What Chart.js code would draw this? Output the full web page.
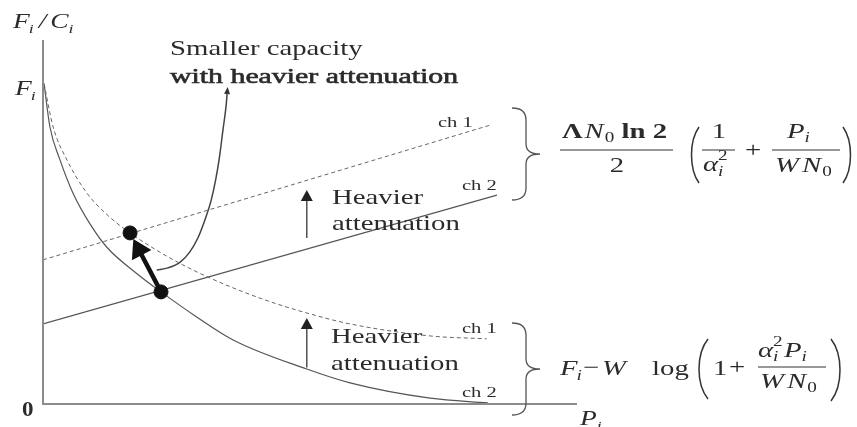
<!DOCTYPE html>
<html>
<head>
<meta charset="utf-8">
<script src="https://cdn.jsdelivr.net/npm/chart.js@4.4.1/dist/chart.umd.min.js"></script>
<style>
  body { margin: 0; background: #fff; }
  canvas { display: block; }
</style>
</head>
<body>
<canvas id="myChart" width="857" height="427"></canvas>
<script>
// Cost / capacity curves vs. transmit power P_i (schematic units)
var ch2CostP = [0.02, 0.13, 0.32, 0.56, 0.88, 1.20, 1.76, 2.21, 2.85, 3.56, 4.94, 5.75, 7.25, 8.33];
var ch2CostF = [8.80, 7.61, 6.70, 5.80, 4.95, 4.30, 3.58, 3.08, 2.42, 1.76, 0.96, 0.58, 0.16, 0.03];

var ch1CostP = [0.02, 0.19, 0.45, 0.82, 1.20, 1.63, 2.38, 3.13, 4.06, 4.94, 5.75, 7.25, 8.31];
var ch1CostF = [8.80, 7.61, 6.70, 5.80, 5.20, 4.70, 4.01, 3.46, 2.91, 2.50, 2.20, 1.87, 1.79];

var ch1LineP = [0, 8.37];
var ch1LineF = [3.96, 7.66];
var ch2LineP = [0, 8.50];
var ch2LineF = [2.20, 5.74];

// smaller capacity with heavier attenuation
var heavyP = [2.13, 2.34, 2.57, 2.75, 2.90, 3.03, 3.15, 3.24, 3.31, 3.37, 3.43, 3.45];
var heavyF = [3.68, 3.74, 3.90, 4.18, 4.56, 5.05, 5.60, 6.21, 6.84, 7.53, 8.21, 8.57];

// operating points (ch 1 first, ch 2 second)
var optP = [1.63, 2.21];
var optF = [4.70, 3.08];

// where the "Heavier attenuation" arrows sit
var shiftP = 4.94;
var shiftUpper = [4.56, 5.88];
var shiftLower = [1.00, 2.36];

function pts(xs, ys) {
    return xs.map(function (x, i) { return { x: x, y: ys[i] }; });
}

var INK = '#2b2b2b';
var LINE = '#555';
var SX = 1.37; // text is set wide

function txt(ctx, s, x, y, size, style, opts) {
    opts = opts || {};
    var sx = opts.sx || SX;
    ctx.save();
    ctx.font = (style || '') + ' ' + size + 'px "Liberation Serif", "DejaVu Serif", serif';
    var w = ctx.measureText(s).width * sx;
    if (opts.align === 'center') x -= w / 2;
    ctx.translate(x, y);
    ctx.scale(sx, 1);
    ctx.fillStyle = INK;
    ctx.textBaseline = 'alphabetic';
    ctx.fillText(s, 0, 0);
    if (opts.heavy) {
        // a little heavier than regular, lighter than bold
        ctx.strokeStyle = INK;
        ctx.lineWidth = opts.heavy;
        ctx.strokeText(s, 0, 0);
    }
    ctx.restore();
    return x + w;
}

function hline(ctx, x0, x1, y) {
    ctx.beginPath();
    ctx.moveTo(x0, y);
    ctx.lineTo(x1, y);
    ctx.stroke();
}

function head(ctx, tx, ty, ux, uy, len, half) {
    var bx = tx - ux * len, by = ty - uy * len;
    ctx.beginPath();
    ctx.moveTo(tx, ty);
    ctx.lineTo(bx - uy * half, by + ux * half);
    ctx.lineTo(bx + uy * half, by - ux * half);
    ctx.closePath();
    ctx.fill();
}

function brace(ctx, x, y0, y1, w) {
    var ym = (y0 + y1) / 2, q = w / 2;
    ctx.beginPath();
    ctx.moveTo(x, y0);
    ctx.quadraticCurveTo(x + q, y0, x + q, y0 + 12);
    ctx.lineTo(x + q, ym - 10);
    ctx.quadraticCurveTo(x + q, ym, x + w, ym);
    ctx.quadraticCurveTo(x + q, ym, x + q, ym + 10);
    ctx.lineTo(x + q, y1 - 12);
    ctx.quadraticCurveTo(x + q, y1, x, y1);
    ctx.stroke();
}

function paren(ctx, x, y0, y1, w, left) {
    var h = y1 - y0;
    ctx.beginPath();
    if (left) {
        ctx.moveTo(x + w, y0);
        ctx.bezierCurveTo(x - 1, y0 + h * 0.25, x - 1, y1 - h * 0.25, x + w, y1);
    } else {
        ctx.moveTo(x, y0);
        ctx.bezierCurveTo(x + w + 1, y0 + h * 0.25, x + w + 1, y1 - h * 0.25, x, y1);
    }
    ctx.stroke();
}

var sketchNotes = {
    id: 'sketchNotes',
    afterDatasetsDraw: function (chart) {
        var ctx = chart.ctx;
        var xs = chart.scales.x, ys = chart.scales.y;
        var a = chart.chartArea;

        // axes
        ctx.save();
        ctx.strokeStyle = '#8c8c8c';
        ctx.lineWidth = 2;
        ctx.beginPath();
        ctx.moveTo(a.left, a.top);
        ctx.lineTo(a.left, a.bottom);
        ctx.lineTo(a.right, a.bottom);
        ctx.stroke();
        ctx.restore();

        ctx.save();
        ctx.fillStyle = '#111';
        ctx.strokeStyle = '#111';

        // thick arrow between the two operating points
        var x0 = xs.getPixelForValue(optP[0]), y0 = ys.getPixelForValue(optF[0]);
        var x1 = xs.getPixelForValue(optP[1]), y1 = ys.getPixelForValue(optF[1]);
        var dx = x0 - x1, dy = y0 - y1, d = Math.sqrt(dx * dx + dy * dy);
        var ux = dx / d, uy = dy / d;
        var tx = x0 - ux * 7, ty = y0 - uy * 7;
        ctx.lineWidth = 4.5;
        ctx.beginPath();
        ctx.moveTo(x1, y1);
        ctx.lineTo(tx - ux * 16, ty - uy * 16);
        ctx.stroke();
        head(ctx, tx, ty, ux, uy, 18, 11);

        // small head on top of the heavy-attenuation curve
        var n = heavyP.length;
        var hx = xs.getPixelForValue(heavyP[n - 1]), hy = ys.getPixelForValue(heavyF[n - 1]);
        var gx = xs.getPixelForValue(heavyP[n - 2]), gy = ys.getPixelForValue(heavyF[n - 2]);
        var hd = Math.sqrt((hx - gx) * (hx - gx) + (hy - gy) * (hy - gy));
        ctx.fillStyle = '#333';
        head(ctx, hx + (hx - gx) / hd * 5, hy + (hy - gy) / hd * 5, (hx - gx) / hd, (hy - gy) / hd, 7, 3);

        // "Heavier attenuation" arrows
        ctx.strokeStyle = '#444';
        ctx.fillStyle = '#222';
        ctx.lineWidth = 1.4;
        [shiftUpper, shiftLower].forEach(function (s) {
            var px = xs.getPixelForValue(shiftP);
            var pa = ys.getPixelForValue(s[0]), pb = ys.getPixelForValue(s[1]);
            ctx.beginPath();
            ctx.moveTo(px, pa);
            ctx.lineTo(px, pb + 8);
            ctx.stroke();
            head(ctx, px, pb, 0, -1, 11, 6);
        });
        ctx.restore();

        // axis labels
        var x;
        x = txt(ctx, 'F', 13, 28, 20, 'italic');
        x = txt(ctx, 'i', x - 1, 33, 13, 'italic');
        x = txt(ctx, '/', x + 5, 28, 20, 'italic');
        x = txt(ctx, 'C', x + 4, 28, 20, 'italic');
        txt(ctx, 'i', x, 33, 13, 'italic');

        x = txt(ctx, 'F', 15, 95, 20, 'italic');
        txt(ctx, 'i', x - 1, 100, 13, 'italic');

        txt(ctx, '0', 22, 416, 20, 'bold', { sx: 1.15 });

        x = txt(ctx, 'P', 580, 425, 20, 'italic');
        txt(ctx, 'i', x, 430, 13, 'italic');

        // curve notes
        txt(ctx, 'Smaller capacity', 170, 55, 21, '');
        txt(ctx, 'with heavier attenuation', 170, 83, 21, '', { sx: 1.42, heavy: 0.6 });

        txt(ctx, 'Heavier', 332, 204, 21, '');
        txt(ctx, 'attenuation', 332, 230, 21, '');
        txt(ctx, 'Heavier', 331, 343, 21, '');
        txt(ctx, 'attenuation', 331, 370, 21, '');

        txt(ctx, 'ch 1', 438, 127, 15, '');
        txt(ctx, 'ch 2', 462, 190, 15, '');
        txt(ctx, 'ch 1', 462, 333, 15, '');
        txt(ctx, 'ch 2', 462, 397, 15, '');

        // braces
        ctx.save();
        ctx.strokeStyle = '#555';
        ctx.lineWidth = 1.3;
        brace(ctx, 512, 108, 200, 28);
        brace(ctx, 512, 323, 415, 28);
        ctx.restore();

        // upper formula: (Λ N0 ln 2 / 2) (1/α_i^2 + P_i/(W N0))
        ctx.save();
        ctx.strokeStyle = '#333';
        ctx.lineWidth = 1.2;
        x = txt(ctx, 'Λ', 562, 138, 21, 'bold');
        x = txt(ctx, 'N', x + 2, 138, 21, 'italic');
        x = txt(ctx, '0', x + 1, 142, 14, '');
        txt(ctx, ' ln 2', x, 138, 21, 'bold');
        hline(ctx, 560, 673, 150);
        txt(ctx, '2', 617, 172, 21, '', { align: 'center' });

        ctx.lineWidth = 1.5;
        paren(ctx, 690, 127, 183, 9, true);
        ctx.lineWidth = 1.2;
        txt(ctx, '1', 719, 138, 21, '', { align: 'center' });
        hline(ctx, 702, 735, 150);
        x = txt(ctx, 'α', 703, 171, 21, 'italic');
        txt(ctx, '2', x, 160, 14, '');
        txt(ctx, 'i', x, 176, 14, 'italic');
        txt(ctx, '+', 753, 157, 21, '', { align: 'center' });
        x = txt(ctx, 'P', 787, 138, 21, 'italic');
        txt(ctx, 'i', x, 142, 14, 'italic');
        hline(ctx, 772, 840, 150);
        x = txt(ctx, 'W', 775, 172, 21, 'italic');
        x = txt(ctx, 'N', x + 3, 172, 21, 'italic');
        txt(ctx, '0', x + 1, 176, 14, '');
        ctx.lineWidth = 1.5;
        paren(ctx, 843, 127, 183, 9, false);

        // lower formula: F_i - W log(1 + α_i^2 P_i/(W N0))
        ctx.lineWidth = 1.2;
        x = txt(ctx, 'F', 560, 375, 21, 'italic');
        txt(ctx, 'i', x - 1, 380, 14, 'italic');
        txt(ctx, '−', 591, 374, 21, '', { align: 'center' });
        txt(ctx, 'W', 602, 375, 21, 'italic');
        txt(ctx, 'log', 652, 375, 21, '');
        ctx.lineWidth = 1.5;
        paren(ctx, 697, 339, 399, 11, true);
        ctx.lineWidth = 1.2;
        txt(ctx, '1', 713, 375, 21, '');
        txt(ctx, '+', 737, 374, 21, '', { align: 'center' });
        x = txt(ctx, 'α', 758, 357, 21, 'italic');
        txt(ctx, '2', x, 346, 14, '');
        txt(ctx, 'i', x, 361, 14, 'italic');
        x = txt(ctx, 'P', 784, 357, 21, 'italic');
        txt(ctx, 'i', x, 361, 14, 'italic');
        hline(ctx, 758, 826, 367);
        x = txt(ctx, 'W', 760, 388, 21, 'italic');
        x = txt(ctx, 'N', x + 3, 388, 21, 'italic');
        txt(ctx, '0', x + 1, 392, 14, '');
        ctx.lineWidth = 1.5;
        paren(ctx, 831, 339, 401, 11, false);
        ctx.restore();
    }
};

var ctx = document.getElementById('myChart').getContext('2d');
var myChart = new Chart(ctx, {
    type: 'scatter',
    data: {
        datasets: [{
            label: 'operating points',
            data: pts(optP, optF),
            backgroundColor: '#111',
            borderColor: '#111',
            pointRadius: 7,
            showLine: false
        }, {
            label: 'ch 1 cost',
            data: pts(ch1CostP, ch1CostF),
            borderColor: '#666',
            borderWidth: 1,
            borderDash: [4, 3],
            cubicInterpolationMode: 'monotone',
            pointRadius: 0,
            showLine: true
        }, {
            label: 'ch 2 cost',
            data: pts(ch2CostP, ch2CostF),
            borderColor: LINE,
            borderWidth: 1.2,
            cubicInterpolationMode: 'monotone',
            pointRadius: 0,
            showLine: true
        }, {
            label: 'ch 1',
            data: pts(ch1LineP, ch1LineF),
            borderColor: '#666',
            borderWidth: 1,
            borderDash: [4, 3],
            pointRadius: 0,
            showLine: true
        }, {
            label: 'ch 2',
            data: pts(ch2LineP, ch2LineF),
            borderColor: LINE,
            borderWidth: 1.2,
            pointRadius: 0,
            showLine: true
        }, {
            label: 'heavier attenuation',
            data: pts(heavyP, heavyF),
            borderColor: '#444',
            borderWidth: 1.5,
            cubicInterpolationMode: 'monotone',
            pointRadius: 0,
            showLine: true
        }]
    },
    options: {
        responsive: false,
        animation: false,
        layout: { padding: { left: 43, right: 280, top: 40, bottom: 23 } },
        scales: {
            x: { type: 'linear', min: 0, max: 10, display: false },
            y: { type: 'linear', min: 0, max: 10, display: false }
        },
        plugins: {
            legend: { display: false },
            tooltip: { enabled: false }
        }
    },
    plugins: [sketchNotes]
});
</script>
</body>
</html>
